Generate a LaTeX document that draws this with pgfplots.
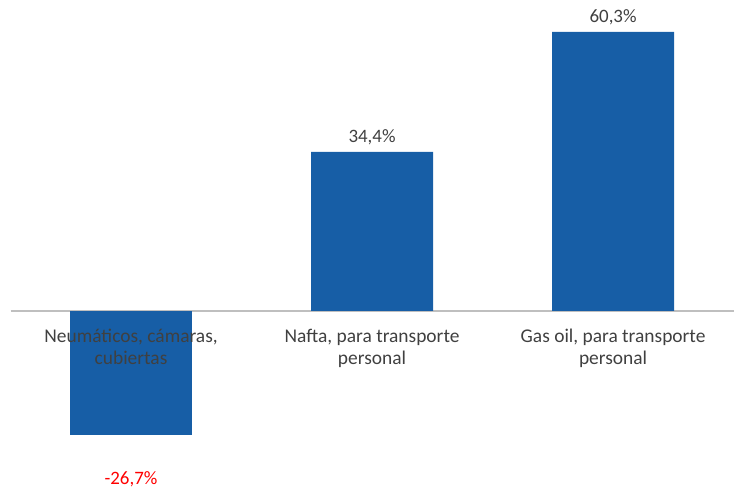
\documentclass[border=0pt]{standalone}
\usepackage{pgfplots}
\pgfplotsset{compat=1.18}
\usepackage{fontspec}
\setmainfont{Carlito}
\definecolor{barblue}{RGB}{23,94,166}
\definecolor{txt}{RGB}{64,64,64}
\definecolor{zline}{RGB}{191,191,191}
\begin{document}
\begin{tikzpicture}[lab/.style={anchor=base, inner sep=0pt, text=txt, font=\fontsize{19.5}{22}\selectfont}]
\begin{axis}[
  scale only axis,
  width=736bp, height=488bp,
  xmin=-0.5436, xmax=2.510,
  ymin=-38.25, ymax=67.2,
  axis lines=none,
  clip=false,
  ybar, bar width=122bp, bar shift=0pt,
  /pgf/number format/assume math mode=true,
  nodes near coords={\pgfmathprintnumber[fixed,fixed zerofill,precision=1,use comma]{\pgfplotspointmeta}\%},
  every node near coord/.append style={font=\fontsize{19}{22}\selectfont, inner sep=0pt},
]
\path (rel axis cs:0,0) rectangle (rel axis cs:1,1);
\draw[zline, line width=1.2bp] (axis cs:-0.5,0) -- (axis cs:2.5,0);
\addplot[fill=barblue, draw=none,
  every node near coord/.append style={text=red, anchor=base, yshift=-50bp}]
  coordinates {(0,-26.7)};
\addplot[fill=barblue, draw=none,
  every node near coord/.append style={text=txt, anchor=base, yshift=9bp}]
  coordinates {(1,34.4) (2,60.3)};
\node[lab, yshift=-31.5bp] at (axis cs:0,0) {Neumáticos, cámaras,};
\node[lab, yshift=-53.5bp] at (axis cs:0,0) {cubiertas};
\node[lab, yshift=-31.5bp] at (axis cs:1,0) {Nafta, para transporte};
\node[lab, yshift=-53.5bp] at (axis cs:1,0) {personal};
\node[lab, yshift=-31.5bp] at (axis cs:2,0) {Gas oil, para transporte};
\node[lab, yshift=-53.5bp] at (axis cs:2,0) {personal};
\end{axis}
\end{tikzpicture}
\end{document}
